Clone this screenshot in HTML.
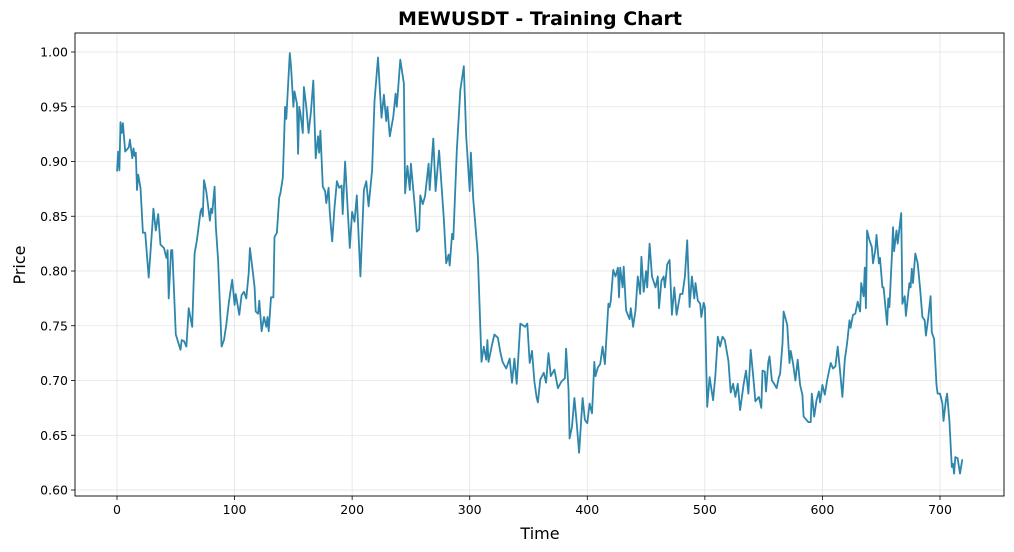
<!DOCTYPE html>
<html><head><meta charset="utf-8">
<style>
html,body{margin:0;padding:0;background:#fff;}
svg{display:block;font-family:"DejaVu Sans","Liberation Sans",sans-serif;}
</style></head>
<body>
<svg id="chart" width="1014" height="552" viewBox="0 0 1014 552" xmlns="http://www.w3.org/2000/svg">
<rect x="0" y="0" width="1014" height="552" fill="#fff"/>
<g id="grid"></g>
<path id="line" fill="none" stroke="#2e86ab" stroke-width="1.8" stroke-linejoin="round"/>
<rect x="75" y="33" width="929" height="463" fill="none" stroke="#000" stroke-width="0.9"/>
<g id="ticks"></g>
<text x="540" y="25" text-anchor="middle" font-size="19" font-weight="bold">MEWUSDT - Training Chart</text>
<text x="540" y="539" text-anchor="middle" font-size="16">Time</text>
<text transform="translate(25,265) rotate(-90)" text-anchor="middle" font-size="16">Price</text>
</svg>
<script>
const times = [
0,1,2,3,4,5,7,10,11,13,
14,15,16,17,18,20,22,24,27,30,
31,33,35,37,40,42,43,44,46,47,
50,54,55,57,59,61,64,66,68,71,
72,73,74,76,79,80,81,83,84,86,
89,91,93,95,97,98,100,101,104,106,
108,110,112,113,115,117,118,120,121,123,
125,127,128,129,131,133,134,136,138,139,
141,142,143,144,147,148,150,151,153,154,
155,156,158,159,161,163,165,167,169,171,
172,173,175,177,178,180,181,183,185,187,
189,191,192,194,
198,200,202,204,207,210,212,214,217,
219,222,225,227,229,230,232,235,237,238,
241,244,245,247,249,250,253,255,257,258,
260,262,265,266,269,271,274,278,280,282,
283,285,286,289,292,295,297,300,301,303,
306,307,310,312,314,315,316,319,321,324,
326,328,331,334,336,338,340,343,347,349,
351,353,355,357,358,360,363,365,367,369,
372,375,378,381,382,384,385,387,389,391,
393,396,398,400,402,404,405,406,407,409,
411,413,415,418,419,420,422,424,426,427,
428,430,431,433,436,437,439,441,443,445,
446,448,450,451,453,455,458,460,461,463,
465,466,468,470,472,474,476,479,481,483,
485,487,489,491,492,494,496,497,499,500,
502,504,507,509,511,513,515,517,520,522,
524,526,528,530,533,535,537,539,541,543,
546,548,549,551,552,554,555,557,559,561,
563,564,566,567,570,572,573,575,577,579,
581,583,584,588,590,591,593,595,597,598,
600,602,604,607,609,611,613,615,617,619,
621,623,624,626,628,630,632,633,635,636,
637,638,640,642,643,645,646,648,649,651,
652,655,656,657,659,660,661,663,664,667,
668,670,671,674,675,676,677,679,681,683,
685,687,688,690,692,693,695,697,698,700,
702,703,705,706,708,710,711,712,713,715,
717,719];
const prices = [
.891,.909,.892,.936,.926,.935,.909,.913,.920,.903,
.912,.905,.908,.874,.888,.876,.835,.835,.794,.841,
.857,.837,.852,.824,.821,.812,.819,.775,.819,.819,
.742,.728,.737,.736,.731,.766,.749,.816,.828,.854,
.857,.850,.883,.872,.846,.857,.853,.877,.841,.810,
.731,.737,.751,.770,.785,.792,.769,.779,.760,.778,
.781,.775,.798,.821,.804,.785,.763,.761,.773,.745,
.758,.749,.758,.745,.776,.776,.831,.835,.867,.871,
.885,.918,.950,.939,.999,.987,.950,.964,.953,.907,
.950,.944,.926,.968,.950,.926,.946,.974,.903,.923,
.908,.928,.877,.873,.862,.876,.853,.827,.858,.882,
.876,.878,.852,.900,
.821,.854,.845,.869,.795,.874,.882,.859,.892,
.955,.995,.940,.961,.937,.950,.923,.941,.962,.950,
.993,.971,.871,.896,.874,.898,.862,.836,.838,.869,
.861,.868,.898,.874,.921,.873,.910,.848,.807,.815,
.805,.834,.829,.910,.965,.987,.923,.873,.908,.866,
.826,.813,.717,.731,.719,.737,.717,.733,.742,.739,
.726,.717,.711,.720,.698,.720,.697,.752,.749,.752,
.716,.727,.699,.684,.680,.701,.707,.698,.725,.704,
.710,.693,.699,.702,.729,.692,.647,.658,.684,.661,
.634,.684,.664,.661,.679,.670,.693,.717,.704,.712,
.715,.731,.715,.770,.767,.773,.801,.795,.803,.776,
.803,.785,.804,.764,.756,.766,.749,.764,.795,.779,
.813,.781,.800,.785,.825,.795,.785,.795,.766,.791,
.795,.785,.806,.810,.760,.785,.760,.779,.779,.795,
.828,.767,.795,.775,.789,.773,.770,.758,.771,.767,
.676,.703,.682,.705,.740,.731,.740,.737,.718,.689,
.697,.685,.697,.673,.697,.709,.688,.728,.705,.681,
.685,.675,.709,.708,.690,.717,.722,.700,.697,.693,
.703,.706,.734,.763,.751,.716,.727,.716,.700,.719,
.696,.687,.667,.662,.662,.688,.667,.682,.690,.680,
.696,.687,.700,.716,.711,.713,.731,.708,.685,.719,
.734,.755,.748,.760,.761,.772,.763,.789,.777,.803,
.766,.837,.828,.822,.807,.819,.833,.807,.812,.785,
.785,.751,.775,.767,.812,.840,.818,.837,.825,.853,
.770,.777,.759,.789,.785,.802,.789,.816,.807,.785,
.758,.755,.741,.757,.777,.744,.738,.696,.688,.688,
.679,.663,.682,.688,.663,.621,.624,.615,.630,.629,
.615,.628];
const xTicks = [0,100,200,300,400,500,600,700];
const yTicks = [0.60,0.65,0.70,0.75,0.80,0.85,0.90,0.95,1.00];
const yTickLabels = ["0.60","0.65","0.70","0.75","0.80","0.85","0.90","0.95","1.00"];

const NS = "http://www.w3.org/2000/svg";
const L = 75, R = 1004, T = 33, B = 496;
function xs(t){ return 117 + (t - 0) * (940 - 117) / 700; }
function ys(p){ return 490 - (p - 0.60) * (490 - 52) / 0.40; }

const grid = document.getElementById('grid');
const ticks = document.getElementById('ticks');
function mk(tag, attrs, parent){
  const e = document.createElementNS(NS, tag);
  for (const k in attrs) e.setAttribute(k, attrs[k]);
  parent.appendChild(e);
  return e;
}
xTicks.forEach(function(t){
  const x = xs(t);
  const g = mk('line', {x1:x, x2:x, y1:T, y2:B, stroke:'#e3e3e3', 'stroke-width':0.8}, grid);
  
  
  const tk = mk('line', {x1:x, x2:x, y1:B, y2:B+4, stroke:'#000', 'stroke-width':0.8}, ticks);
  
  
  const lb = mk('text', {x:x, y:B+18, 'text-anchor':'middle', 'font-size':12.5}, ticks);
  lb.textContent = String(t);
  
  
});
yTicks.forEach(function(p, i){
  const y = ys(p);
  const g = mk('line', {x1:L, x2:R, y1:y, y2:y, stroke:'#e3e3e3', 'stroke-width':0.8}, grid);
  
  
  const tk = mk('line', {x1:L-4, x2:L, y1:y, y2:y, stroke:'#000', 'stroke-width':0.8}, ticks);
  
  
  const lb = mk('text', {x:L-7, y:y+4.5, 'text-anchor':'end', 'font-size':12.5}, ticks);
  lb.textContent = yTickLabels[i];
  
  
});
const n = Math.min(times.length, prices.length);
let d = '';
for (let i = 0; i < n; i++){
  d += (i ? 'L' : 'M') + xs(times[i]).toFixed(1) + ',' + ys(prices[i]).toFixed(1);
}
document.getElementById('line').setAttribute('d', d);
</script>
</body></html>
